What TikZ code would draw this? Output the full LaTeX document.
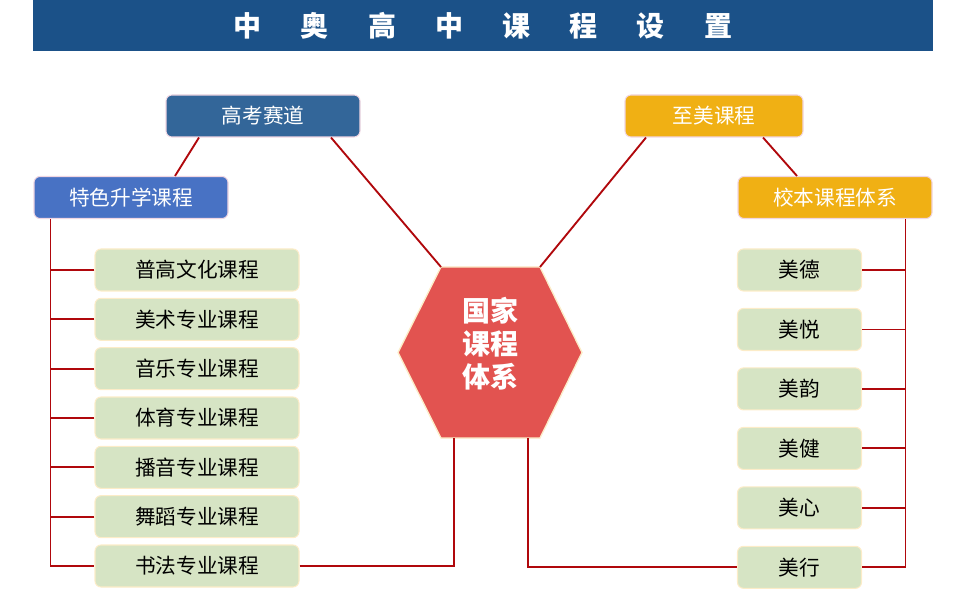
\documentclass[tikz,border=0pt]{standalone}
\usepackage{fontspec}
\setmainfont{Noto Sans CJK SC}
\usepackage{xcolor}
\usepackage{tikz}
\usetikzlibrary{positioning,calc}

\definecolor{titleblue}{RGB}{27,81,136}
\definecolor{trackblue}{RGB}{51,102,153}
\definecolor{featblue}{RGB}{72,114,196}
\definecolor{gold}{RGB}{240,176,20}
\definecolor{hexred}{RGB}{226,83,80}
\definecolor{leafgreen}{RGB}{214,228,196}
\definecolor{linkred}{RGB}{176,8,12}
\definecolor{cream}{RGB}{252,236,200}
\definecolor{pinkline}{RGB}{240,214,226}

\begin{document}
\begin{tikzpicture}[
    x=0.75pt, y=-0.75pt,
    node distance=4.7pt,
    head/.style={rectangle, rounded corners=4.5pt, draw=pinkline, line width=0.8pt, minimum height=31.5pt, inner sep=0pt, text=white, font=\fontsize{15.5}{18}\selectfont},
    leaf/.style={rectangle, rounded corners=4.5pt, draw=cream, line width=0.8pt, fill=leafgreen, minimum height=31.5pt, inner sep=0pt, font=\fontsize{15.5}{18}\selectfont},
    leafl/.style={leaf, minimum width=153pt},
    leafr/.style={leaf, minimum width=93pt},
    link/.style={draw=linkred, line width=1.4pt}
]
\useasboundingbox (0,0) rectangle (970,609);

% title bar
\node[fill=titleblue, minimum width=675pt, minimum height=38.25pt, text=white, font=\bfseries\fontsize{21}{24}\selectfont] (title) at (483,25.5)
    {中\hspace{1.4em}奥\hspace{1.4em}高\hspace{1.4em}中\hspace{1.4em}课\hspace{1.4em}程\hspace{1.4em}设\hspace{1.4em}置};

% top boxes
\node[head, fill=trackblue, minimum width=145.5pt] (gk) at (263,116) {高考赛道};
\node[head, fill=featblue, minimum width=145.5pt] (ts) at (131,197.5) {特色升学课程};
\node[head, fill=gold, minimum width=133.5pt] (zm) at (714,116) {至美课程};
\node[head, fill=gold, minimum width=145.5pt] (xb) at (835,197.5) {校本课程体系};

% hexagon
\coordinate (h1) at (441,267);
\coordinate (h2) at (540,267);
\coordinate (h3) at (582,352.5);
\coordinate (h4) at (540,438);
\coordinate (h5) at (441,438);
\coordinate (h6) at (398,352.5);
\filldraw[fill=hexred, draw=cream, line width=1pt] (h1) -- (h2) -- (h3) -- (h4) -- (h5) -- (h6) -- cycle;
\node[text=white, align=center, font=\bfseries\fontsize{21}{24.75}\selectfont] (gj) at (490,344) {国家\\课程\\体系};

% left column
\node[leafl] (pg) at (197,270) {普高文化课程};
\node[leafl, below=of pg] (ms) {美术专业课程};
\node[leafl, below=of ms] (yy) {音乐专业课程};
\node[leafl, below=of yy] (ty) {体育专业课程};
\node[leafl, below=of ty] (by) {播音专业课程};
\node[leafl, below=of by] (wd) {舞蹈专业课程};
\node[leafl, below=of wd] (sf) {书法专业课程};

% right column
\node[leafr] (md) at (799.5,270) {美德};
\node[leafr, below=12.3pt of md] (my) {美悦};
\node[leafr, below=12.3pt of my] (mr) {美韵};
\node[leafr, below=12.3pt of mr] (mj) {美健};
\node[leafr, below=12.3pt of mj] (mxin) {美心};
\node[leafr, below=12.3pt of mxin] (mx) {美行};

\draw[link] ($(gk.south)+(-64,0)$) -- ($(ts.north)+(44,0)$);
\draw[link] ($(gk.south)+(68,0)$) -- (h1);
\draw[link] ($(zm.south)+(-68,0)$) -- (h2);
\draw[link] ($(zm.south)+(49,0)$) -- ($(xb.north)+(-38,0)$);

\coordinate (ltrunk) at ($(ts.south west)+(17,0)$);
\draw[link] (ltrunk) |- (sf.west);
\foreach \n in {pg,ms,yy,ty,by,wd}
    \draw[link] (\n.west) -- (\n.west -| ltrunk);

\coordinate (rtrunk) at ($(xb.south east)+(-27,0)$);
\draw[link] (rtrunk) |- (mx.east);
\foreach \n in {md,my,mr,mj,mxin}
    \draw[link] (\n.east) -- (\n.east -| rtrunk);

\coordinate (hbl) at (454,438);
\coordinate (hbr) at (528,438);
\draw[link] (sf.east) -| (hbl);
\draw[link] (mx.west) -| (hbr);
\end{tikzpicture}
\end{document}
